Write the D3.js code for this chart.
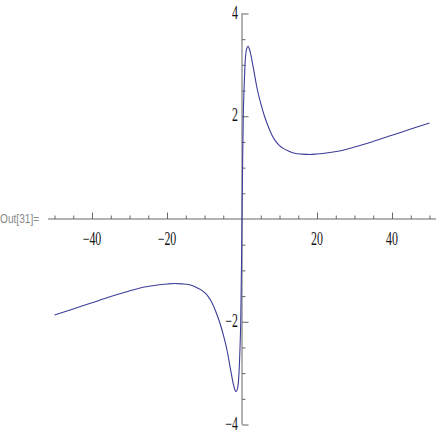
<!DOCTYPE html>
<html>
<head>
<meta charset="utf-8">
<script src="https://cdn.jsdelivr.net/npm/d3@7"></script>
<style>
  body { margin: 0; background: #fff; }
  svg { display: block; }
</style>
</head>
<body>
<div id="chart"></div>
<script>
// curve (x, y)
const xNeg = [-50, -45, -40, -35, -30, -26, -23, -20, -18, -16, -14, -12.5, -11, -10, -9, -8, -7, -6, -5, -4, -3, -2.2, -1.6, -1.2, -0.8, -0.53, -0.35, -0.15, 0]
const yNeg = [-1.87, -1.75, -1.63, -1.51, -1.4, -1.325, -1.29, -1.265, -1.255, -1.262, -1.28, -1.32, -1.375, -1.43, -1.51, -1.63, -1.8, -2.0, -2.25, -2.55, -2.95, -3.25, -3.36, -3.3, -3.0, -2.5, -2.05, -1.0, 0]
const xPos = [0.15, 0.35, 0.53, 0.8, 1.2, 1.6, 2.2, 3, 4, 5, 6, 7, 8, 9, 10, 11, 12.5, 14, 16, 18, 20, 23, 26, 30, 35, 40, 45, 50]
const yPos = [1.0, 2.05, 2.5, 3.0, 3.3, 3.36, 3.25, 2.95, 2.55, 2.25, 2.0, 1.8, 1.63, 1.51, 1.43, 1.375, 1.32, 1.28, 1.262, 1.255, 1.265, 1.29, 1.325, 1.4, 1.51, 1.63, 1.75, 1.87]

const xMajor = [-40, -20, 20, 40]
const xMinor = [-50, -45, -35, -30, -25, -15, -10, -5, 5, 10, 15, 25, 30, 35, 45, 50]
const yMajor = [-4, -2, 2, 4]
const yMinor = [-3.5, -3, -2.5, -1.5, -1, -0.5, 0.5, 1, 1.5, 2.5, 3, 3.5]

const w = 436
const h = 436

const points = xNeg.map((x, i) => [x, yNeg[i]])
  .concat(xPos.map((x, i) => [x, yPos[i]]))

const xScale = d3.scaleLinear().domain([-50, 50]).range([54.5, 429.5])
const yScale = d3.scaleLinear().domain([-4, 4]).range([424.5, 13.5])

const svg = d3.select("#chart")
  .append("svg")
  .attr("width", w)
  .attr("height", h)

const axisColor = "#666"

// x axis: ticks point up, labels below
const xAxisG = svg.append("g")
  .attr("transform", "translate(0," + yScale(0) + ")")

xAxisG.append("line")
  .attr("x1", 48).attr("x2", 436)
  .attr("stroke", axisColor)

xAxisG.append("g")
  .call(d3.axisBottom(xScale).tickValues(xMinor).tickSizeInner(-3.5).tickSizeOuter(0).tickFormat(""))
  .call(g => g.select(".domain").remove())

xAxisG.append("g")
  .call(d3.axisBottom(xScale).tickValues(xMajor).tickSizeInner(-6.5).tickSizeOuter(0).tickFormat(""))
  .call(g => g.select(".domain").remove())

xAxisG.selectAll(".tick line").attr("stroke", axisColor)

// y axis: ticks point right, labels left
const yAxisG = svg.append("g")
  .attr("transform", "translate(" + xScale(0) + ",0)")

yAxisG.append("line")
  .attr("y1", yScale(4)).attr("y2", yScale(-4))
  .attr("stroke", axisColor)

yAxisG.append("g")
  .call(d3.axisLeft(yScale).tickValues(yMinor).tickSizeInner(-3.5).tickSizeOuter(0).tickFormat(""))
  .call(g => g.select(".domain").remove())

yAxisG.append("g")
  .call(d3.axisLeft(yScale).tickValues(yMajor).tickSizeInner(-6.5).tickSizeOuter(0).tickFormat(""))
  .call(g => g.select(".domain").remove())

yAxisG.selectAll(".tick line").attr("stroke", axisColor)

const fmt = d => (d < 0 ? "\u2212" : "") + Math.abs(d)

// tick labels, narrow serif like the original
svg.selectAll(".xlab")
  .data(xMajor)
  .enter()
  .append("text")
  .attr("class", "xlab")
  .attr("transform", d => "translate(" + xScale(d) + "," + (yScale(0) + 26) + ") scale(0.66,1)")
  .attr("text-anchor", "middle")
  .attr("font-family", "Liberation Serif")
  .attr("font-size", 18)
  .attr("fill", "#111")
  .text(fmt)

svg.selectAll(".ylab")
  .data(yMajor)
  .enter()
  .append("text")
  .attr("class", "ylab")
  .attr("transform", d => "translate(" + (xScale(0) - 4) + "," + (yScale(d) + 5) + ") scale(0.66,1)")
  .attr("text-anchor", "end")
  .attr("font-family", "Liberation Serif")
  .attr("font-size", 18)
  .attr("fill", "#111")
  .text(fmt)

// Mathematica output label
svg.append("text")
  .attr("transform", "translate(0," + (yScale(0) + 3.5) + ") scale(0.78,1)")
  .attr("font-family", "Liberation Sans")
  .attr("font-size", 13)
  .attr("fill", "#888")
  .text("Out[31]=")

// curve
const line = d3.line()
  .x(d => xScale(d[0]))
  .y(d => yScale(d[1]))
  .curve(d3.curveMonotoneX)

svg.append("path")
  .datum(points)
  .attr("d", line)
  .attr("fill", "none")
  .attr("stroke", "#3d3d99")
  .attr("stroke-width", 1.1)
</script>
</body>
</html>
